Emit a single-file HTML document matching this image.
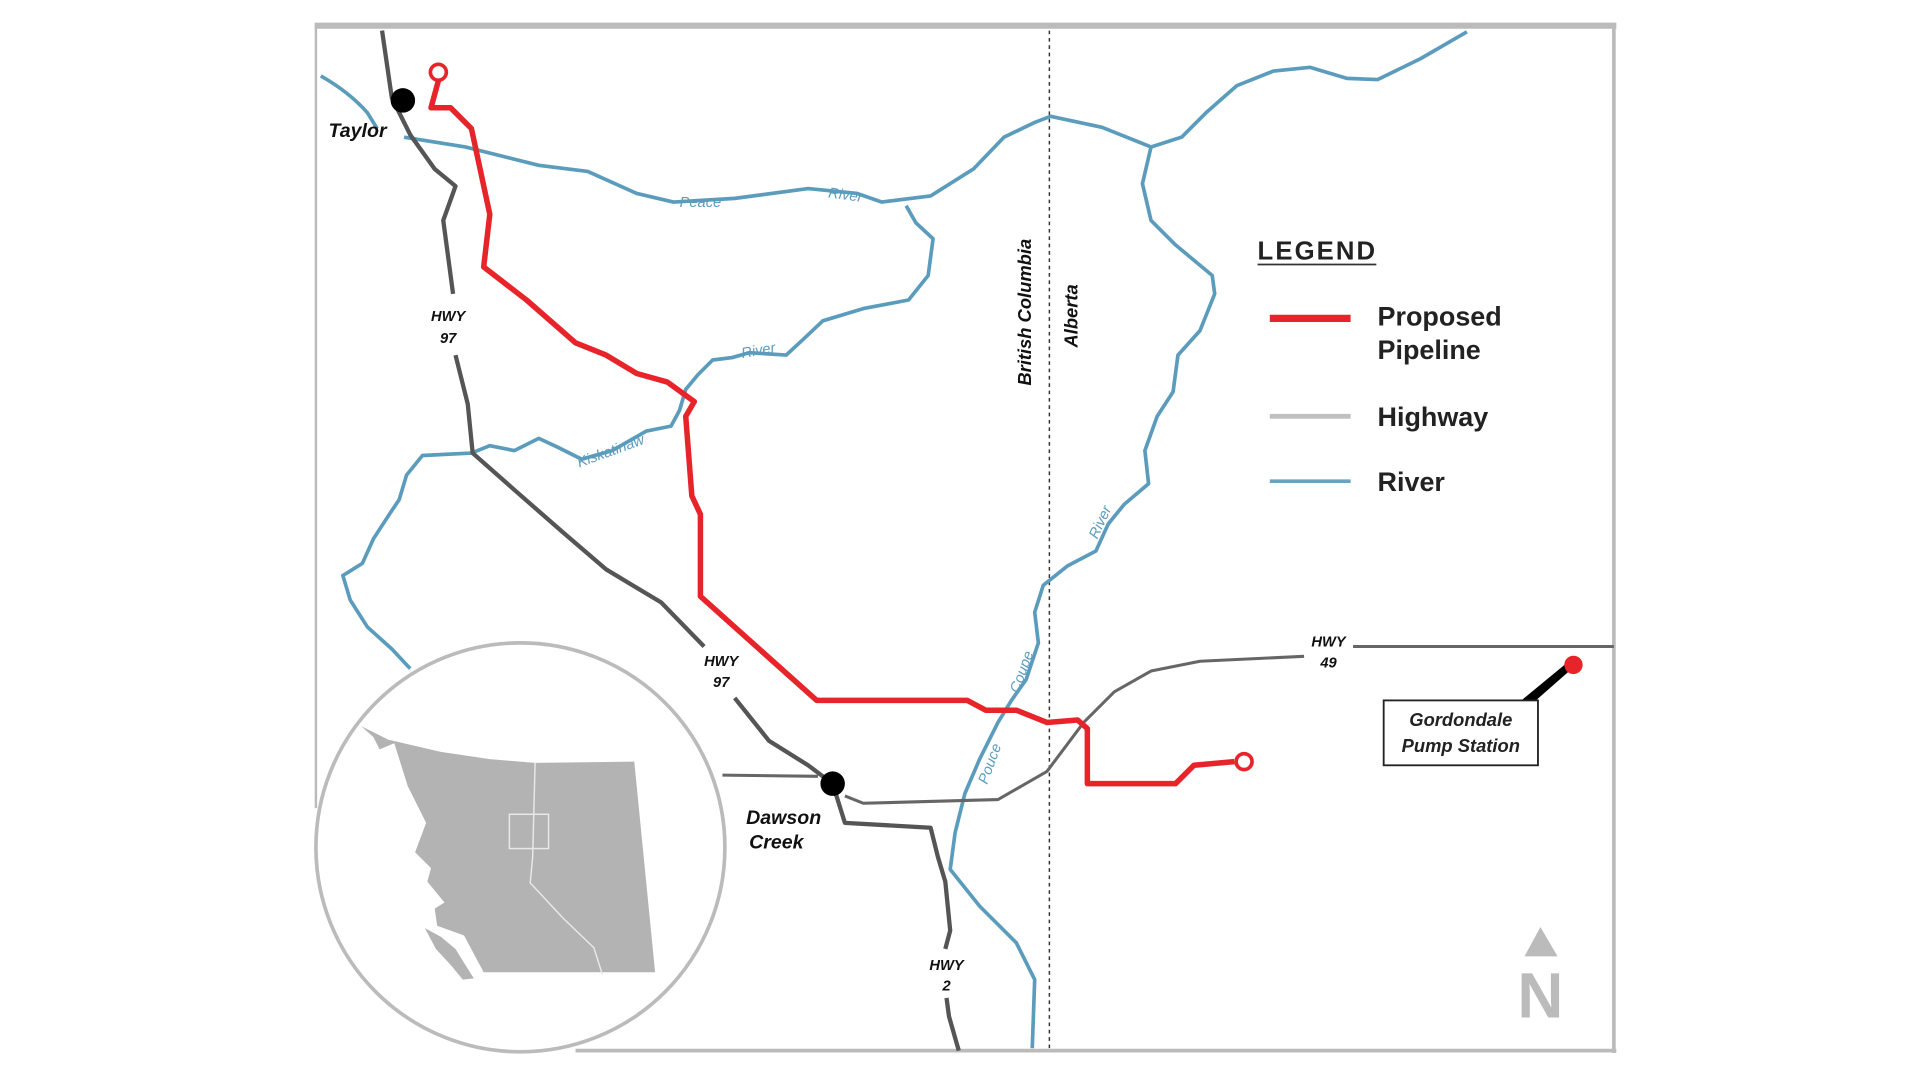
<!DOCTYPE html>
<html><head><meta charset="utf-8"><style>html,body{margin:0;padding:0;background:#fff}svg{display:block}</style></head>
<body>
<svg width="1920" height="1080" viewBox="0 0 1568 882" preserveAspectRatio="none" xmlns="http://www.w3.org/2000/svg" font-family="Liberation Sans, sans-serif">
<rect width="1568" height="882" fill="#fff"/>
<!-- frame -->
<line x1="257" y1="21" x2="1320" y2="21" stroke="#bbb" stroke-width="5"/>
<line x1="1318" y1="21" x2="1318" y2="860" stroke="#bbb" stroke-width="3"/>
<line x1="258" y1="21" x2="258" y2="660" stroke="#bbb" stroke-width="2"/>
<line x1="470" y1="858" x2="1320" y2="858" stroke="#bbb" stroke-width="3"/>
<line x1="857" y1="25" x2="857" y2="858" stroke="#333" stroke-width="1.2" stroke-dasharray="3,3"/>
<!-- rivers -->
<g fill="none" stroke="#5b9cbd" stroke-width="3" stroke-linejoin="round">
<path d="M262,62 Q285,75 300,92 L308,105"/>
<path d="M330,112 L380,120 L440,135 L480,140 L520,158 L550,165 L600,162 L660,154 L700,158 L720,165 L760,160 L795,138 L820,112 L845,100 L858,95 L900,104 L940,120 L965,112 L985,92 L1010,70 L1040,58 L1070,55 L1100,64 L1125,65 L1160,48 L1198,26"/>
<path d="M740,168 L748,182 L762,195 L758,225 L742,245 L705,252 L672,262 L655,278 L642,290 L612,288 L598,292 L582,294 L570,306 L560,318 L555,335 L548,348 L528,352 L500,368 L475,375 L455,365 L440,358 L420,368 L400,364 L385,370 L345,372 L332,388 L326,408 L318,420 L305,440 L296,460 L280,470 L286,490 L300,512 L320,530 L335,546"/>
<path d="M940,120 L933,150 L940,180 L960,200 L990,225 L992,240 L980,270 L962,290 L958,320 L945,340 L935,368 L938,395 L918,412 L905,428 L895,450 L872,462 L852,478 L845,500 L848,525 L838,555 L826,572 L815,590 L800,620 L788,648 L780,680 L776,710 L800,740 L830,770 L845,800 L843,856"/>
</g>
<!-- highways -->
<g fill="none" stroke="#555" stroke-width="3.5" stroke-linejoin="round">
<path d="M312,25 L320,80 L335,110 L355,138 L372,152 L362,180 L366,210 L370,240"/>
<path d="M372,290 L382,330 L386,370 L420,400 L460,435 L495,465 L540,492 L575,528"/>
<path d="M600,570 L628,605 L660,625 L680,640 L690,672 L760,676 L766,700 L772,720 L776,760 L772,775"/>
<path d="M773,815 L775,830 L783,858"/>
</g>
<g fill="none" stroke="#666" stroke-width="2.5" stroke-linejoin="round">
<path d="M590,633 L668,634"/>
<path d="M690,650 L705,656 L815,653 L855,630 L885,590 L910,565 L940,548 L980,540 L1065,536"/>
<path d="M1105,528 L1318,528"/>
</g>
<!-- pipeline -->
<path d="M358,66 L352,88 L368,88 L385,105 L400,175 L395,218 L430,245 L470,280 L495,290 L520,305 L545,312 L567,328 L560,340 L565,405 L572,420 L572,487 L620,530 L667,572 L790,572 L805,580 L830,580 L855,590 L880,588 L888,595 L888,640 L960,640 L975,625 L1008,622" fill="none" stroke="#e8242b" stroke-width="4.5" stroke-linejoin="round"/>
<circle cx="358" cy="59" r="6.5" fill="#fff" stroke="#e8242b" stroke-width="3"/>
<circle cx="1016" cy="622" r="6.5" fill="#fff" stroke="#e8242b" stroke-width="3"/>
<circle cx="329" cy="82" r="10" fill="#000"/>
<circle cx="680" cy="640" r="10" fill="#000"/>
<!-- labels -->
<g font-weight="bold" font-style="italic" fill="#111">
<text x="292" y="112" font-size="16" text-anchor="middle">Taylor</text>
<text x="640" y="673" font-size="16" text-anchor="middle">Dawson</text>
<text x="634" y="693" font-size="16" text-anchor="middle">Creek</text>
<g font-size="12" text-anchor="middle">
<text x="366" y="262">HWY</text><text x="366" y="280">97</text>
<text x="589" y="544">HWY</text><text x="589" y="561">97</text>
<text x="773" y="792">HWY</text><text x="773" y="809">2</text>
<text x="1085" y="528">HWY</text><text x="1085" y="545">49</text>
</g>
<text x="0" y="0" font-size="15" text-anchor="middle" transform="translate(842,255) rotate(-90)">British Columbia</text>
<text x="0" y="0" font-size="15" text-anchor="middle" transform="translate(880,258) rotate(-90)">Alberta</text>
</g>
<g font-style="italic" fill="#5b9cbd" font-size="12">
<text x="572" y="169" text-anchor="middle">Peace</text>
<text x="690" y="163" text-anchor="middle" transform="rotate(8 690 163)">River</text>
<text x="620" y="290" text-anchor="middle" transform="rotate(-10 620 290)">River</text>
<text x="500" y="372" text-anchor="middle" transform="rotate(-20 500 372)">Kiskatinaw</text>
<text x="902" y="428" text-anchor="middle" transform="rotate(-65 902 428)">River</text>
<text x="838" y="550" text-anchor="middle" transform="rotate(-70 838 550)">Coupe</text>
<text x="812" y="625" text-anchor="middle" transform="rotate(-70 812 625)">Pouce</text>
</g>
<!-- legend -->
<text x="1027" y="212" font-size="21" font-weight="bold" fill="#222" textLength="96">LEGEND</text>
<line x1="1027" y1="216" x2="1124" y2="216" stroke="#333" stroke-width="1.5"/>
<line x1="1037" y1="260" x2="1103" y2="260" stroke="#e8242b" stroke-width="6"/>
<line x1="1037" y1="340" x2="1103" y2="340" stroke="#c0c0c0" stroke-width="4"/>
<line x1="1037" y1="393" x2="1103" y2="393" stroke="#6aa3c2" stroke-width="3"/>
<g font-size="22" font-weight="bold" fill="#222">
<text x="1125" y="266">Proposed</text><text x="1125" y="293">Pipeline</text>
<text x="1125" y="348">Highway</text><text x="1125" y="401">River</text>
</g>
<!-- Gordondale -->
<polygon points="1240,574 1252,574 1285,545 1280,541" fill="#000"/>
<rect x="1130" y="572" width="126" height="53" fill="#fff" stroke="#222" stroke-width="1.5"/>
<g font-size="15" font-weight="bold" font-style="italic" fill="#222" text-anchor="middle">
<text x="1193" y="593">Gordondale</text><text x="1193" y="614">Pump Station</text>
</g>
<circle cx="1285" cy="543" r="7.5" fill="#e8242b"/>
<!-- north -->
<polygon points="1245,781 1272,781 1258,757" fill="#bbb"/>
<text x="1258" y="831" font-size="52" font-weight="bold" fill="#bbb" text-anchor="middle">N</text>
<!-- inset -->
<circle cx="425" cy="692" r="167" fill="#fff" stroke="#bbb" stroke-width="3"/>
<path d="M295,593 L317,604 L360,614 L400,620 L437,623 L518,622 L535,794 L395,794 L379,764 L357,756 L355,742 L363,737 L349,720 L352,709 L339,696 L348,672 L333,642 L322,607 L310,612 L305,602 Z" fill="#b3b3b3"/>
<path d="M347,758 L360,765 L372,775 L380,788 L387,799 L378,800 L368,788 L356,775 Z" fill="#b3b3b3"/>
<path d="M437,623 L435,700 L433,721 L460,750 L485,774 L492,796" fill="none" stroke="#e8e8e8" stroke-width="1.2"/>
<rect x="416" y="665" width="32" height="28" fill="none" stroke="#e8e8e8" stroke-width="1.2"/>
</svg>
</body></html>
